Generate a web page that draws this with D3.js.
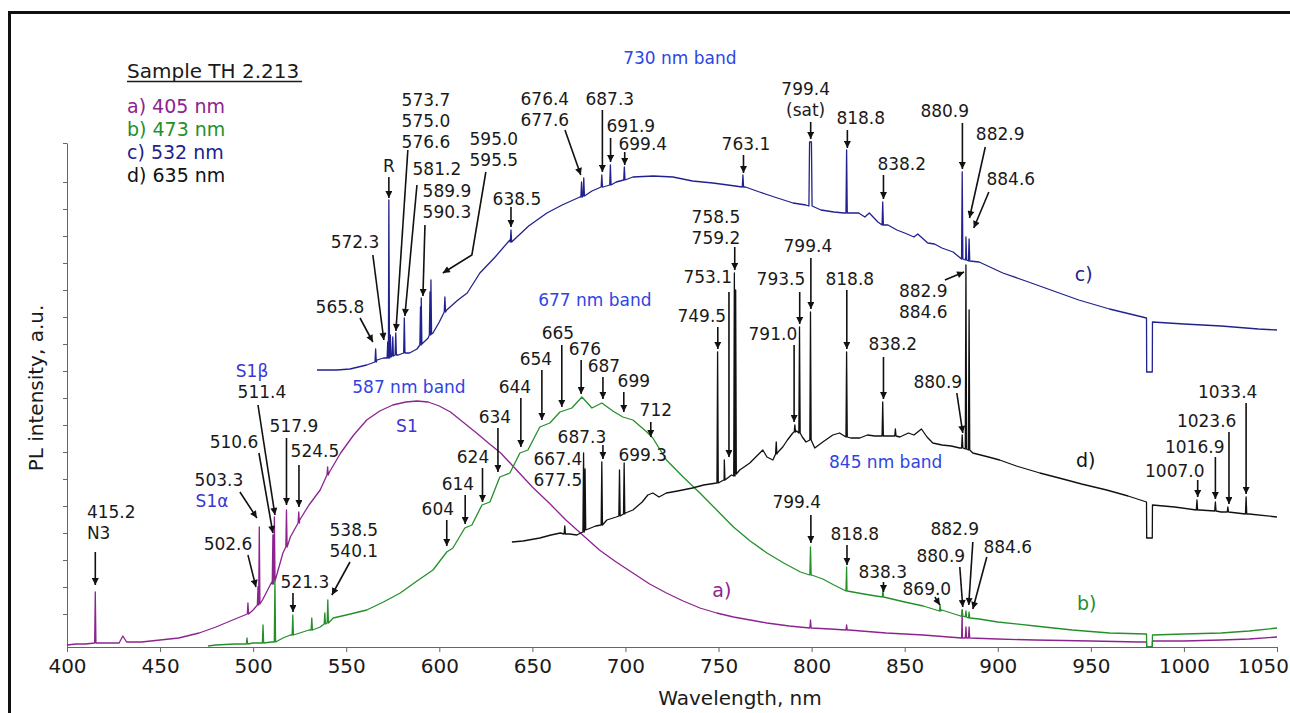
<!DOCTYPE html>
<html>
<head>
<meta charset="utf-8">
<script src="https://cdn.jsdelivr.net/npm/d3@7"></script>
<style>
  body { margin: 0; background: #fff; }
  svg text { font-family: "DejaVu Sans", Verdana, sans-serif; }
</style>
</head>
<body>
<div id="chart"></div>
<script>
// ---- data (wavelength nm, intensity a.u.) ----
const xTicks = [400, 450, 500, 550, 600, 650, 700, 750, 800, 850, 900, 950, 1000, 1050];
const yTicks = [33, 60, 87, 114, 141, 168, 195, 222, 249, 276, 303, 330, 357, 384, 411, 438, 465, 504];

const legendItems = ["a) 405 nm", "b) 473 nm", "c) 532 nm", "d) 635 nm"];

// a) 405 nm excitation
const baseA = [[400,2],[405,3],[410,3],[420,4],[428,4],[430,11],[432,5],[440,5],[450,7],[460,9],[471,14],[480,20],[489,27],[500,37],[505,47],[510,65],[516,94],[520,110],[525,127],[530,142],[536,157],[541,175],[547,194],[554,212],[561,227],[568,236],[575,242],[582,245],[588,246],[594,245],[600,241],[606,235],[612,226],[620,214],[627,203],[633,194],[641,178],[650,160],[659,144],[668,127],[677,112],[686,97],[695,85],[704,74],[713,63],[722,54],[731,46],[740,39],[749,34],[758,30],[767,27],[776,24],[788,21],[799,19],[810,18],[820,17],[840,14],[860,12],[881,9],[900,8],[920,7],[950,6],[976,5],[979.9,5],[980,0],[983,0],[983.1,6],[1000,6],[1020,7],[1035,8],[1050,10]];
const peaksA = [[415.2,4,55],[497.2,33,44],[502.6,42,60],[503.3,43,120],[510.6,63,112],[511.4,66,130],[517.9,100,137],[524.5,124,135],[540,172,180],[799.4,19,27],[818.8,17,22],[880.9,9,37],[882.9,9,20],[884.6,9,20]];

// b) 473 nm excitation
const baseB = [[475.7,1],[480,2],[490,3],[500,4],[510,5],[516,9],[520,12],[525,14],[530,17],[536,20],[543,29],[550,32],[561,37],[570,45],[579,54],[588,66],[596.6,77],[604,95],[607.3,99],[613.7,119],[617.5,122],[622.9,142],[627.2,145],[632.5,170],[637.9,174],[643.3,194],[647.6,197],[654,220],[659.4,224],[664.8,235],[671.2,239],[676.6,250],[682,239],[687.3,244],[693.2,236],[698.6,230],[704,227],[711.5,215],[714.7,209],[722,187],[731,170],[740,154],[749,137],[758,120],[767,106],[776,94],[785,84],[794,75],[800,72],[806,68],[812,62],[819,56],[828,53],[838,50],[850,45],[860,41],[870,37],[880,31],[890,28],[900,25],[920,21],[940,17],[960,14],[979.9,13],[980,0],[983,0],[983.1,12],[1000,13],[1020,14],[1035,16],[1050,19]];
const peaksB = [[496.7,3,9],[505.3,4,22],[511.7,5,67],[521.3,12,32],[531.5,17,29],[538.5,23,34],[540.1,24,47],[799.4,72,100],[818.8,56,80],[838.3,50,57],[869.0,36,42],[880.9,31,37],[882.9,30,36],[884.6,29,35]];

// c) 532 nm excitation
const baseC = [[534.3,277],[545,277],[552,278],[561,282],[566.5,287],[570,289],[573.5,290],[578,292],[584,294],[588,298],[591.2,304],[594,309],[596.6,314],[600,325],[604,337],[610,347],[615,354],[621.8,374],[630,390],[637.9,407],[648,421],[657.8,434],[666,442],[675.5,450],[682,456],[688,460],[695,465],[704,470],[715,471],[725.5,470],[736,466],[746.9,464],[755,462],[764.4,460],[772,455],[780,450],[790,444],[796.9,442],[805,437],[812,435],[817.3,434],[825.3,434],[828.6,430],[831,434],[835.6,425],[841,422],[845.8,417],[850,414],[855,410],[857,413],[862.4,404],[866,403],[870,399],[876,395],[882.8,390],[890,385],[902.7,374],[915,366],[930,356],[943.5,347],[960,338],[979.9,329],[980,275],[983,275],[983.1,325],[1000,323],[1020,321],[1040,318],[1050,317]];
const peaksC = [[565.8,285,298],[572.3,289,305],[572.9,289,447],[573.7,290,312],[575.0,291,310],[576.6,292,314],[581.2,294,329],[589.9,302,340],[590.3,303,349],[595.0,312,355],[595.5,313,367],[603,335,350],[638.5,405,417],[676.4,450,465],[677.6,451,469],[687.3,460,472],[691.9,462,482],[699.4,467,480],[763.1,460,472],[799.4,441,505,0.5],[818.8,434,497],[838.2,422,445],[880.9,388,475],[882.9,387,410],[884.6,386,408]];

// d) 635 nm excitation
const baseD = [[639,105],[645,106],[654,109],[660,112],[665,114],[670,113],[673.9,112],[677,115],[680,118],[684,121],[690,127],[695,130],[700,134],[704,137],[709,145],[712,152],[714.7,154],[718,150],[722,154],[728,156],[736,159],[742,162],[749,164],[753,167],[757,172],[761.4,177],[766.8,184],[770,190],[773.8,197],[776,190],[779.2,187],[782,195],[784.5,200],[787,207],[789.9,214],[792,216],[795,210],[797,205],[801.7,199],[806,205],[811.4,212],[815,214],[821,209],[825.9,209],[830,212],[834,211],[842,211],[847.4,210],[852,214],[855,212],[859,218],[862,210],[865.1,204],[870,202],[875,201],[879.6,199],[886.6,194],[895,190],[901,187],[910,181],[922.6,174],[935,168],[945,163],[958.5,157],[970,151],[979.9,145],[980,109],[983,109],[983.1,142],[995,140],[1008.5,137],[1020,135],[1035,133],[1050,130]];
const peaksD = [[667.4,113,121],[677.5,115,194],[678.3,117,178],[687.3,122,185],[696.8,131,177],[699.3,133,184],[749.5,164,295],[753.1,167,187],[758.5,171,374],[759.2,173,357],[781,193,205],[791.0,215,222],[793.5,214,320],[799.4,207,335],[818.8,210,295],[838.2,211,245],[845,211,218],[880.9,199,212],[882.9,198,382],[884.6,197,337],[1007.0,137,147],[1016.9,136,145],[1023.6,135,140],[1033.4,133,150]];

const PURPLE = "#8c2490", GREEN = "#25902a", NAVY = "#22228e", BLACK = "#111";
const BAND = "#2f44e4", SCOL = "#3a36d2";

// peak labels: text lines, anchor (wavelength, intensity of first baseline), arrow path
const labels = [
  {t:["415.2","N3"], l:410.7, v:129, a:"start", arrow:[[415.2,95],[415.2,62]]},
  {t:["502.6"], l:486.5, v:97, arrow:[[497.2,92],[501.5,60]]},
  {t:["503.3"], l:481.6, v:161, arrow:[[492.9,155],[502.0,129]]},
  {t:["510.6"], l:489.7, v:199, arrow:[[503.1,194],[510.6,114]]},
  {t:["511.4"], l:504.7, v:249, arrow:[[502.6,242],[511.7,132]]},
  {t:["517.9"], l:521.9, v:215, arrow:[[517.9,209],[517.9,142]]},
  {t:["524.5"], l:533.2, v:190, arrow:[[524.6,182],[524.6,140]]},
  {t:["521.3"], l:527.8, v:59, arrow:[[521.4,54],[521.4,35]]},
  {t:["538.5","540.1"], l:554.1, v:111, arrow:[[552.0,85],[542.3,52]]},
  {t:["565.8"], l:546.6, v:334, arrow:[[557.4,329],[564.3,305]]},
  {t:["572.3"], l:554.7, v:399, arrow:[[564.3,392],[570.2,307]]},
  {t:["R"], l:572.9, v:475, arrow:[[572.9,470],[572.9,449]]},
  {t:["573.7","575.0","576.6"], l:592.8, v:541, arrow:[[583.1,497],[576.7,316]]},
  {t:["581.2"], l:598.7, v:472, arrow:[[588.0,462],[581.5,331]]},
  {t:["589.9","590.3"], l:604.1, v:450, arrow:[[592.3,422],[591.2,351]]},
  {t:["595.0","595.5"], l:629.3, v:502, arrow:[[625.0,475],[617.5,392],[601.9,374]]},
  {t:["638.5"], l:641.7, v:442, arrow:[[638.5,440],[638.5,420]]},
  {t:["676.4","677.6"], l:656.7, v:542, arrow:[[667.5,517],[676.0,472]]},
  {t:["687.3"], l:691.6, v:542, arrow:[[687.6,537],[687.6,475]]},
  {t:["691.9"], l:702.9, v:515, arrow:[[692.0,509],[692.0,485]]},
  {t:["699.4"], l:709.3, v:497, arrow:[[699.6,495],[699.6,482]]},
  {t:["763.1"], l:764.7, v:497, arrow:[[763.4,492],[763.4,474]]},
  {t:["799.4","(sat)"], l:796.8, v:552, arrow:[[799.5,525],[799.5,508]]},
  {t:["818.8"], l:826.4, v:523, arrow:[[819.2,517],[819.2,499]]},
  {t:["838.2"], l:848.4, v:477, arrow:[[838.6,472],[838.6,448]]},
  {t:["880.9"], l:871.5, v:530, arrow:[[881.0,524],[881.0,478]]},
  {t:["882.9"], l:901.3, v:507, arrow:[[893.3,500],[884.8,429]]},
  {t:["884.6"], l:907, v:462, arrow:[[895.2,455],[887.1,419]]},
  {t:["758.5","759.2"], l:748.6, v:424, arrow:[[758.7,400],[758.7,377]]},
  {t:["753.1"], l:744.2, v:364, arrow:[[755.6,355],[755.6,190]]},
  {t:["749.5"], l:741, v:325, arrow:[[749.6,320],[749.6,298]]},
  {t:["793.5"], l:783.5, v:362, arrow:[[793.6,355],[793.6,323]]},
  {t:["799.4"], l:798, v:395, arrow:[[799.6,389],[799.6,338]]},
  {t:["818.8"], l:820.5, v:362, arrow:[[818.9,357],[818.9,298]]},
  {t:["791.0"], l:779.2, v:307, arrow:[[790.6,302],[790.6,225]]},
  {t:["838.2"], l:843.6, v:297, arrow:[[838.6,290],[838.6,248]]},
  {t:["880.9"], l:867.8, v:259, arrow:[[878,254],[881.2,214]]},
  {t:["882.9","884.6"], l:860, v:350, arrow:[[871.6,367],[881.9,375]]},
  {t:["1033.4"], l:1023.5, v:249, arrow:[[1033.4,244],[1033.4,153]]},
  {t:["1023.6"], l:1012.2, v:220, arrow:[[1024.2,215],[1024.2,143]]},
  {t:["1016.9"], l:1005.8, v:194, arrow:[[1016.9,190],[1016.9,148]]},
  {t:["1007.0"], l:995.1, v:170, arrow:[[1007.4,167],[1007.4,150]]},
  {t:["604"], l:599.2, v:132, arrow:[[604,127],[604,101]]},
  {t:["614"], l:610, v:157, arrow:[[613.9,152],[613.9,123]]},
  {t:["624"], l:618.1, v:184, arrow:[[623.2,179],[623.2,145]]},
  {t:["634"], l:629.9, v:224, arrow:[[631.5,219],[631.5,175]]},
  {t:["644"], l:640.6, v:254, arrow:[[643.8,249],[643.8,200]]},
  {t:["654"], l:651.9, v:282, arrow:[[655.1,277],[655.1,227]]},
  {t:["665"], l:663.7, v:308, arrow:[[665.8,302],[665.8,240]]},
  {t:["676"], l:678.2, v:292, arrow:[[676.2,287],[676.2,253]]},
  {t:["687"], l:688.4, v:275, arrow:[[687.9,270],[687.9,248]]},
  {t:["699"], l:704.5, v:260, arrow:[[699.1,255],[699.1,235]]},
  {t:["712"], l:716.3, v:231, arrow:[[713.6,225],[713.6,210]]},
  {t:["687.3"], l:676.6, v:204, arrow:[[687.9,202],[687.9,188]]},
  {t:["667.4","677.5"], l:663.7, v:182},
  {t:["699.3"], l:709.3, v:186},
  {t:["799.4"], l:792, v:139, arrow:[[799.6,132],[799.6,104]]},
  {t:["818.8"], l:823.2, v:107, arrow:[[819.0,102],[819.0,82]]},
  {t:["838.3"], l:838.2, v:69, arrow:[[838.6,65],[838.6,55]]},
  {t:["869.0"], l:861.9, v:52, arrow:[[866.2,50],[868.9,42]]},
  {t:["880.9"], l:869.4, v:85, arrow:[[879.6,80],[881.2,40]]},
  {t:["882.9"], l:876.9, v:112, arrow:[[886.6,105],[884.4,42]]},
  {t:["884.6"], l:905.4, v:94, arrow:[[894.1,90],[886.6,38]]},
  {t:["730 nm band"], l:729.2, v:583, c:BAND},
  {t:["677 nm band"], l:683.6, v:341, c:BAND},
  {t:["587 nm band"], l:583.7, v:254, c:BAND},
  {t:["845 nm band"], l:839.8, v:179, c:BAND},
  {t:["S1"], l:582.6, v:215, c:SCOL},
  {t:["S1α"], l:477.9, v:140, c:SCOL},
  {t:["S1β"], l:499.4, v:270, c:SCOL},
  {t:["a)"], l:751.8, v:50, c:PURPLE, s:19},
  {t:["b)"], l:947.8, v:37, c:GREEN, s:19},
  {t:["c)"], l:946.2, v:366, c:NAVY, s:19},
  {t:["d)"], l:947.3, v:180, c:BLACK, s:19}
];

(function () {
  const W = 1290, H = 713;
  const svg = d3.select("#chart").append("svg")
      .attr("width", W)
      .attr("height", H);

  const x = d3.scaleLinear().domain([400, 1050]).range([67, 1277]);
  const y = d3.scaleLinear().domain([0, 504]).range([647, 143]);

  // frame
  svg.append("rect")
    .attr("x", 9.5).attr("y", 12.5)
    .attr("width", 1300).attr("height", 720)
    .attr("fill", "none").attr("stroke", "#111").attr("stroke-width", 3);

  svg.append("defs").append("marker")
    .attr("id", "arr")
    .attr("viewBox", "0 0 10 10")
    .attr("refX", 10).attr("refY", 5)
    .attr("markerWidth", 9).attr("markerHeight", 7)
    .attr("markerUnits", "userSpaceOnUse")
    .attr("orient", "auto")
    .append("path").attr("d", "M0,0 L10,5 L0,10 Z").attr("fill", "#111");

  // --- axes ---
  const xAxis = svg.append("g")
    .attr("transform", `translate(0,${y(0)})`)
    .call(d3.axisBottom(x).tickValues(xTicks).tickFormat(d3.format("d")).tickSize(5).tickSizeOuter(0));
  xAxis.select(".domain").attr("stroke", "#666");
  xAxis.selectAll(".tick line").attr("stroke", "#666");
  xAxis.selectAll(".tick text")
    .attr("y", 26).attr("dy", 0)
    .attr("font-size", 20).attr("fill", "#1a1a1a")
    .attr("font-family", "DejaVu Sans, Verdana, sans-serif")
    .attr("dx", d => d === 1050 ? -14 : 0);

  const yAxis = svg.append("g")
    .attr("transform", `translate(${x(400)},0)`)
    .call(d3.axisLeft(y).tickValues(yTicks).tickFormat("").tickSize(4).tickSizeOuter(0));
  yAxis.select(".domain").attr("stroke", "#666");
  yAxis.selectAll(".tick line").attr("stroke", "#666");

  svg.append("text")
    .attr("x", 740).attr("y", 705)
    .attr("text-anchor", "middle").attr("font-size", 20).attr("fill", "#1a1a1a")
    .text("Wavelength, nm");

  svg.append("text")
    .attr("transform", "translate(43,388) rotate(-90)")
    .attr("text-anchor", "middle").attr("font-size", 20).attr("fill", "#1a1a1a")
    .text("PL intensity, a.u.");

  // --- spectra ---
  function buildSeries(base, peaks) {
    const pts = base.map(d => [d[0], d[1]]);
    peaks.forEach(([l, b, t, w = 0]) => {
      pts.push([l - w - 0.35, b], [l - w, t]);
      if (w) pts.push([l + w, t]);
      pts.push([l + w + 0.35, b]);
    });
    return pts.sort((p, q) => p[0] - q[0]);
  }

  const line = d3.line().x(d => x(d[0])).y(d => y(d[1]));
  const series = [
    { pts: buildSeries(baseA, peaksA), c: PURPLE },
    { pts: buildSeries(baseB, peaksB), c: GREEN },
    { pts: buildSeries(baseD, peaksD), c: BLACK },
    { pts: buildSeries(baseC, peaksC), c: NAVY }
  ];
  svg.selectAll(".spec")
    .data(series)
    .join("path")
    .attr("class", "spec")
    .attr("d", d => line(d.pts))
    .attr("fill", "none")
    .attr("stroke", d => d.c)
    .attr("stroke-width", 1.3)
    .attr("stroke-linejoin", "round");

  // --- annotations ---
  const arrowLine = d3.line().x(d => x(d[0])).y(d => y(d[1]));
  svg.selectAll(".arrow")
    .data(labels.filter(d => d.arrow))
    .join("path")
    .attr("class", "arrow")
    .attr("d", d => arrowLine(d.arrow))
    .attr("fill", "none")
    .attr("stroke", "#111")
    .attr("stroke-width", 1.6)
    .attr("marker-end", "url(#arr)");

  const lab = svg.selectAll(".lab")
    .data(labels)
    .join("text")
    .attr("class", "lab")
    .attr("x", d => x(d.l))
    .attr("y", d => y(d.v))
    .attr("text-anchor", d => d.a || "middle")
    .attr("font-size", d => d.s || 17)
    .attr("fill", d => d.c || "#1a1a1a");
  lab.selectAll("tspan")
    .data(d => d.t.map((s, i) => ({ s, i, d })))
    .join("tspan")
    .attr("x", e => x(e.d.l))
    .attr("dy", e => e.i === 0 ? 0 : 21)
    .text(e => e.s);

  // --- legend ---
  const leg = svg.append("g").attr("transform", "translate(127,0)");
  leg.append("text").attr("y", 78).attr("font-size", 20).attr("fill", "#1a1a1a").text("Sample TH 2.213");
  leg.append("line")
    .attr("x1", 0).attr("x2", 175).attr("y1", 81.5).attr("y2", 81.5)
    .attr("stroke", "#1a1a1a").attr("stroke-width", 1.5);
  const legCols = [PURPLE, GREEN, NAVY, BLACK];
  leg.selectAll(".li")
    .data(legendItems)
    .join("text")
    .attr("class", "li")
    .attr("y", (d, i) => 113 + i * 23)
    .attr("font-size", 19)
    .attr("fill", (d, i) => legCols[i])
    .text(d => d);
})();
</script>
</body>
</html>
